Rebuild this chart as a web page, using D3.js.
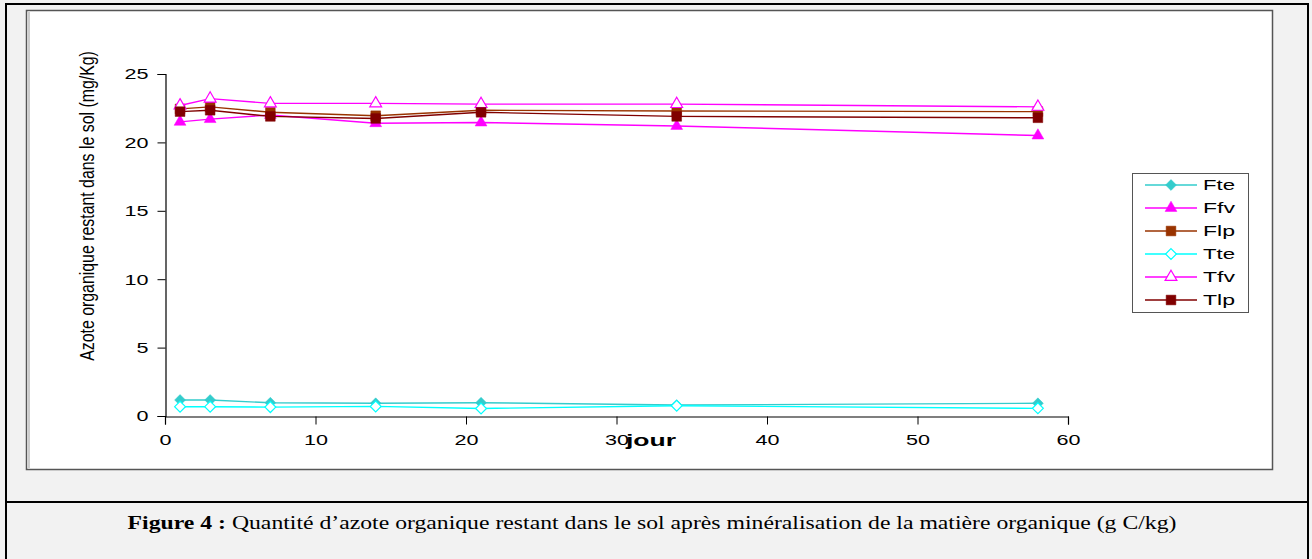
<!DOCTYPE html>
<html>
<head>
<meta charset="utf-8">
<script src="https://cdn.jsdelivr.net/npm/d3@7"></script>
<style>
  html, body { margin: 0; padding: 0; background: #f2f2f2; }
  svg { display: block; }
</style>
</head>
<body>
<svg id="chart" width="1312" height="559"></svg>
<script>
(function () {
  const days = [1, 3, 7, 14, 21, 34, 58];
  const fte = [1.17, 1.17, 0.97, 0.93, 0.97, 0.8, 0.93];
  const ffv = [21.5, 21.7, 22.0, 21.4, 21.45, 21.2, 20.5];
  const flp = [22.45, 22.6, 22.2, 21.95, 22.35, 22.3, 22.25];
  const tte = [0.68, 0.68, 0.65, 0.7, 0.55, 0.75, 0.56];
  const tfv = [22.7, 23.2, 22.85, 22.85, 22.8, 22.8, 22.6];
  const tlp = [22.25, 22.35, 21.9, 21.75, 22.2, 21.9, 21.8];
  const xTicks = [0, 10, 20, 30, 40, 50, 60];
  const yTicks = [0, 5, 10, 15, 20, 25];

  const series = [
    { name: "Fte", values: fte, color: "#33cccc", shape: "diamond", filled: true },
    { name: "Ffv", values: ffv, color: "#ff00ff", shape: "triangle", filled: true },
    { name: "Flp", values: flp, color: "#993300", shape: "square", filled: true },
    { name: "Tte", values: tte, color: "#00ffff", shape: "diamond", filled: false },
    { name: "Tfv", values: tfv, color: "#ff00ff", shape: "triangle", filled: false },
    { name: "Tlp", values: tlp, color: "#800000", shape: "square", filled: true },
  ];

  const svg = d3.select("#chart");

  // page frame
  svg.append("rect").attr("x", 6).attr("y", 4).attr("width", 1302).attr("height", 560)
    .attr("fill", "#f2f2f2").attr("stroke", "#000").attr("stroke-width", 2);
  svg.append("line").attr("x1", 6).attr("x2", 1308).attr("y1", 502).attr("y2", 502)
    .attr("stroke", "#000").attr("stroke-width", 2);

  // chart frame
  svg.append("rect").attr("x", 26.5).attr("y", 10.5).attr("width", 1246).attr("height", 459)
    .attr("fill", "#fff").attr("stroke", "#555").attr("stroke-width", 1.5);
  svg.append("line").attr("x1", 29).attr("x2", 29).attr("y1", 12).attr("y2", 468)
    .attr("stroke", "#999").attr("stroke-width", 1);

  const x = d3.scaleLinear().domain([0, 60]).range([165, 1068]);
  const y = d3.scaleLinear().domain([0, 25]).range([416, 74]);

  const xAxis = svg.append("g").attr("transform", "translate(0,416.5)")
    .call(d3.axisBottom(x).tickValues(xTicks).tickSize(8).tickPadding(10));
  const yAxis = svg.append("g").attr("transform", "translate(165.5,0)")
    .call(d3.axisLeft(y).tickValues(yTicks).tickSize(8).tickPadding(6));
  [xAxis, yAxis].forEach((axis) => {
    axis.select(".domain").attr("stroke", "#000").attr("stroke-width", 1.2);
    axis.selectAll(".tick line").attr("stroke", "#000");
    axis.selectAll(".tick text")
      .attr("fill", "#000")
      .attr("font-family", "Liberation Sans, Arial, sans-serif")
      .attr("font-size", 15)
      .attr("textLength", (d) => String(d).length * 12)
      .attr("lengthAdjust", "spacingAndGlyphs");
  });
  yAxis.selectAll(".tick text").attr("dx", -3);

  // y title: narrow face, squeezed to the scan's length
  const yTitleG = svg.append("g");
  const yTitle = yTitleG.append("text")
    .attr("text-anchor", "middle")
    .attr("font-family", "Liberation Sans Narrow, Liberation Sans, Arial, sans-serif")
    .attr("font-size", 20)
    .text("Azote organique restant dans le sol (mg/Kg)");
  const yTitleWidth = yTitle.node().getBBox().width || 310;
  yTitleG.attr("transform", `translate(94,206) rotate(-90) scale(${310 / yTitleWidth},1)`);

  svg.append("text")
    .attr("x", 651).attr("y", 446)
    .attr("text-anchor", "middle")
    .attr("font-family", "Liberation Sans, Arial, sans-serif")
    .attr("font-weight", "bold")
    .attr("font-size", 17)
    .attr("textLength", 50)
    .attr("lengthAdjust", "spacingAndGlyphs")
    .text("jour");

  const symbolFor = (shape, size) => {
    const type = shape === "diamond" ? d3.symbolDiamond2
      : shape === "triangle" ? d3.symbolTriangle2 : d3.symbolSquare2;
    return d3.symbol().type(type).size(size)();
  };
  const sizes = { diamond: 75, triangle: 100, square: 120 };

  const line = d3.line().x((d) => x(d[0])).y((d) => y(d[1]));

  series.forEach((s) => {
    const pts = days.map((d, i) => [d, s.values[i]]);
    const g = svg.append("g");
    g.append("path").datum(pts).attr("d", line)
      .attr("fill", "none").attr("stroke", s.color).attr("stroke-width", 1.4);
    g.selectAll("path.m").data(pts).join("path").attr("class", "m")
      .attr("transform", (d) => `translate(${x(d[0])},${y(d[1])})`)
      .attr("d", symbolFor(s.shape, sizes[s.shape]))
      .attr("fill", s.filled ? s.color : "#fff")
      .attr("stroke", s.color)
      .attr("stroke-width", s.filled ? 0.5 : 1.2);
  });

  // legend
  const legend = svg.append("g").attr("transform", "translate(1132,173)");
  legend.append("rect").attr("x", 0.5).attr("y", 0.5).attr("width", 116).attr("height", 139)
    .attr("fill", "#fff").attr("stroke", "#555").attr("stroke-width", 1);
  series.forEach((s, i) => {
    const row = legend.append("g").attr("transform", `translate(0,${12 + i * 23})`);
    row.append("line").attr("x1", 13).attr("x2", 65).attr("y1", 0).attr("y2", 0)
      .attr("stroke", s.color).attr("stroke-width", 1.4);
    row.append("path").attr("transform", "translate(39,0)")
      .attr("d", symbolFor(s.shape, sizes[s.shape]))
      .attr("fill", s.filled ? s.color : "#fff")
      .attr("stroke", s.color)
      .attr("stroke-width", s.filled ? 0.5 : 1.2);
    row.append("text").attr("x", 71).attr("y", 5)
      .attr("font-family", "Liberation Sans, Arial, sans-serif")
      .attr("font-size", 14)
      .attr("textLength", 32)
      .attr("lengthAdjust", "spacingAndGlyphs")
      .text(s.name);
  });

  // caption, stretched horizontally like the source scan
  const capG = svg.append("g");
  const cap = capG.append("text").attr("x", 0).attr("y", 0)
    .attr("text-anchor", "middle")
    .attr("font-family", "Liberation Serif, Times New Roman, serif")
    .attr("font-size", 18);
  cap.append("tspan").attr("font-weight", "bold").text("Figure 4 :");
  cap.append("tspan").text(" Quantité d’azote organique restant dans le sol après minéralisation de la matière organique (g C/kg)");
  const capWidth = cap.node().getBBox().width || 1049;
  capG.attr("transform", `translate(652,529) scale(${1049 / capWidth},1)`);
})();
</script>
</body>
</html>
